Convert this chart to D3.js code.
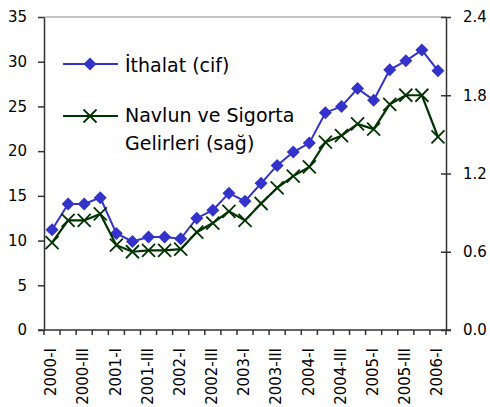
<!DOCTYPE html>
<html><head><meta charset="utf-8">
<script src="https://cdn.jsdelivr.net/npm/d3@7"></script>
<style>body{margin:0;background:#fff}text{font-family:"DejaVu Sans",sans-serif;fill:#000}</style>
</head><body>
<svg id="c" width="490" height="407"></svg>
<script>
const categories = ["2000-I","2000-II","2000-III","2000-IV","2001-I","2001-II","2001-III","2001-IV","2002-I","2002-II","2002-III","2002-IV","2003-I","2003-II","2003-III","2003-IV","2004-I","2004-II","2004-III","2004-IV","2005-I","2005-II","2005-III","2005-IV","2006-I"];
const ithalat = [11.2,14.1,14.1,14.8,10.8,9.9,10.4,10.4,10.2,12.5,13.4,15.3,14.4,16.4,18.4,19.9,20.9,24.3,25.0,27.0,25.7,29.1,30.1,31.3,29.0];
const navlun = [0.67,0.84,0.84,0.89,0.65,0.60,0.61,0.61,0.62,0.75,0.82,0.91,0.84,0.97,1.09,1.18,1.25,1.44,1.49,1.58,1.54,1.73,1.80,1.80,1.48];
const leftTicks = [0,5,10,15,20,25,30,35];
const rightTicks = [0,0.6,1.2,1.8,2.4];
const seriesNames = ["İthalat (cif)", ["Navlun ve Sigorta","Gelirleri (sağ)"]];

const blue = "#3333cc", green = "#003300", axisCol = "#333";
const svg = d3.select("#c");
const L = 44, R = 446, T = 17, B = 330;
const x = d3.scaleBand().domain(categories).range([L, R]);
const yL = d3.scaleLinear().domain([0, 35]).range([B, T]);
const yR = d3.scaleLinear().domain([0, 2.4]).range([B, T]);
const cx = d => x(d) + x.bandwidth() / 2;

// top border
svg.append("line").attr("x1", L).attr("x2", R).attr("y1", T).attr("y2", T).attr("stroke", "#888").attr("stroke-width", 1.2);

// left axis
const gl = svg.append("g").attr("transform", `translate(${L},0)`)
  .call(d3.axisLeft(yL).tickValues(leftTicks).tickSize(6).tickSizeOuter(0).tickPadding(11));
gl.selectAll("text").style("font-size", "15px");
gl.selectAll("line,path").attr("stroke", axisCol).attr("stroke-width", 1.5);

// right axis
const gr = svg.append("g").attr("transform", `translate(${R},0)`)
  .call(d3.axisRight(yR).tickValues(rightTicks).tickFormat(d3.format(".1f")).tickSize(5).tickSizeOuter(0).tickPadding(12));
gr.selectAll(".tick").append("line").attr("x1", -5).attr("x2", 0);
gr.selectAll("text").style("font-size", "15px");
gr.selectAll("line,path").attr("stroke", axisCol).attr("stroke-width", 1.5);

// bottom axis
const gb = svg.append("g");
gb.append("line").attr("x1", L - 6).attr("x2", R + 5).attr("y1", B).attr("y2", B).attr("stroke", axisCol).attr("stroke-width", 1.5);
const bounds = categories.map(c => x(c)).concat([x.range()[1]]);
gb.selectAll("line.t").data(bounds).join("line").attr("class", "t")
  .attr("x1", d => d).attr("x2", d => d).attr("y1", B).attr("y2", B + 5)
  .attr("stroke", axisCol).attr("stroke-width", 1.5);
gb.selectAll("text").data(categories.filter((c, i) => i % 2 === 0)).join("text")
  .attr("transform", d => `translate(${cx(d) - 1},348) rotate(-90)`)
  .attr("text-anchor", "end").attr("dy", "0.35em").style("font-size", "15px").text(d => d);

// series
const lineL = d3.line().x((d, i) => cx(categories[i])).y(d => yL(d));
const lineR = d3.line().x((d, i) => cx(categories[i])).y(d => yR(d));
svg.append("path").datum(ithalat).attr("d", lineL).attr("fill", "none").attr("stroke", blue).attr("stroke-width", 2);
const diamond = (g, px, py) => g.append("path")
  .attr("d", `M${px},${py - 6.5}L${px + 6.5},${py}L${px},${py + 6.5}L${px - 6.5},${py}Z`).attr("fill", blue);
ithalat.forEach((v, i) => diamond(svg, cx(categories[i]), yL(v)));

svg.append("path").datum(navlun).attr("d", lineR).attr("fill", "none").attr("stroke", green).attr("stroke-width", 2.2);
const cross = (g, px, py) => g.append("path")
  .attr("d", `M${px - 6.5},${py - 6.5}L${px + 6.5},${py + 6.5}M${px - 6.5},${py + 6.5}L${px + 6.5},${py - 6.5}`)
  .attr("stroke", green).attr("stroke-width", 1.8).attr("fill", "none");
navlun.forEach((v, i) => cross(svg, cx(categories[i]), yR(v)));

// legend
const lg = svg.append("g");
lg.append("line").attr("x1", 63).attr("x2", 118).attr("y1", 64).attr("y2", 64).attr("stroke", blue).attr("stroke-width", 2);
diamond(lg, 90, 64);
lg.append("text").attr("x", 125).attr("y", 72).style("font-size", "19px").text(seriesNames[0]);
lg.append("line").attr("x1", 63).attr("x2", 118).attr("y1", 116).attr("y2", 116).attr("stroke", green).attr("stroke-width", 2.2);
cross(lg, 90, 116);
lg.append("text").attr("x", 125).attr("y", 122).style("font-size", "19px").text(seriesNames[1][0]);
lg.append("text").attr("x", 125).attr("y", 150).style("font-size", "19px").text(seriesNames[1][1]);
</script>
</body></html>
